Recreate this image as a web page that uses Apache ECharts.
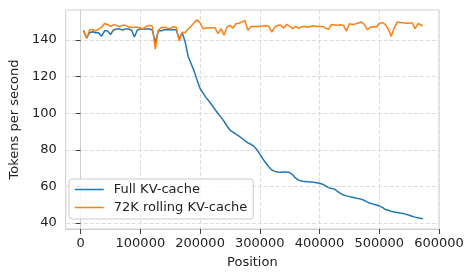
<!DOCTYPE html>
<html>
<head>
<meta charset="utf-8">
<script src="https://cdn.jsdelivr.net/npm/echarts@6/dist/echarts.min.js"></script>
<style>
html,body{margin:0;padding:0;background:#fff;}
#c{width:474px;height:280px;}
</style>
</head>
<body>
<div id="c"></div>
<script>
const positions = [
  5000,10000,15000,20000,25000,30000,35000,40000,45000,50000,
  55000,60000,65000,70000,75000,80000,85000,90000,95000,100000,
  105000,110000,115000,120000,125000,130000,135000,140000,145000,150000,
  155000,160000,165000,170000,175000,180000,185000,190000,195000,200000,
  205000,210000,215000,220000,225000,230000,235000,240000,245000,250000,
  255000,260000,265000,270000,275000,280000,285000,290000,295000,300000,
  305000,310000,315000,320000,325000,330000,335000,340000,345000,350000,
  355000,360000,365000,370000,375000,380000,385000,390000,395000,400000,
  405000,410000,415000,420000,425000,430000,435000,440000,445000,450000,
  455000,460000,465000,470000,475000,480000,485000,490000,495000,500000,
  505000,510000,515000,520000,525000,530000,535000,540000,545000,550000,
  555000,560000,565000,570000,573000
];
const fullKV = [
  145.0,141.0,144.0,144.5,144.0,144.0,142.0,145.0,145.0,143.0,
  145.5,146.0,146.0,145.5,146.0,146.0,145.5,141.6,145.5,146.0,
  146.0,146.0,146.0,145.5,138.5,145.0,145.0,145.6,145.6,145.6,
  145.6,145.6,140.5,144.0,139.0,131.0,127.0,123.0,118.0,113.5,
  111.0,108.5,106.5,104.3,102.0,99.8,97.7,95.6,93.0,90.8,
  89.7,88.5,87.5,86.3,85.0,83.8,83.0,82.0,80.0,77.6,
  75.0,72.8,70.7,69.0,68.2,67.8,67.7,67.9,67.8,67.6,
  66.3,64.5,63.4,62.9,62.6,62.5,62.4,62.3,62.0,61.7,
  61.2,60.3,59.3,58.8,58.5,57.3,56.2,55.3,54.8,54.4,
  54.0,53.6,53.3,53.0,52.3,51.4,50.8,50.3,49.8,49.3,
  48.5,47.4,46.9,46.4,46.0,45.7,45.4,45.2,44.7,44.2,
  43.7,43.2,42.8,42.5,42.3
];
const rollingKV = [
  145.5,141.0,145.5,145.8,144.8,146.0,147.0,149.0,148.5,147.5,
  148.3,148.0,147.2,148.0,148.0,147.2,146.8,147.0,147.0,146.6,
  146.2,147.5,148.0,147.5,135.0,145.3,146.8,147.0,146.5,146.2,
  147.3,147.0,139.5,144.3,144.0,146.0,147.5,149.5,151.0,149.3,
  146.2,146.5,146.7,146.7,146.7,143.5,146.2,142.6,147.0,148.0,
  146.5,148.9,149.2,149.8,150.7,145.3,147.3,147.4,147.4,147.4,
  147.6,147.8,147.5,144.3,147.0,148.0,148.0,146.5,148.6,147.5,
  146.2,147.4,146.5,147.2,147.4,147.0,147.4,147.8,147.4,147.4,
  147.4,146.5,145.8,148.5,148.2,148.0,148.3,148.0,144.9,148.9,
  148.5,148.8,149.3,149.8,148.6,145.6,147.0,147.3,147.0,149.0,
  149.5,148.5,146.0,142.0,146.5,149.8,149.6,149.4,149.2,149.2,
  149.5,146.2,149.0,148.2,147.8
];
const xTicks = [0,100000,200000,300000,400000,500000,600000];
const yTicks = [40,60,80,100,120,140];
const seriesNames = ['Full KV-cache','72K rolling KV-cache'];
const colors = ['#1f77b4','#ff7f0e'];

const font = 'DejaVu Sans';
const chart = echarts.init(document.getElementById('c'), null, {renderer:'canvas'});
const pair = (vals) => positions.map((p,i)=>[p, vals[i]]);
const gridLine = {show:true, lineStyle:{color:'#dcdcdc', type:[4,2], width:1}};
chart.setOption({
  animation:false,
  backgroundColor:'#fff',
  grid:{left:63, top:10, right:35, bottom:51, show:true, borderColor:'#cfcfcf', borderWidth:1, containLabel:false},
  xAxis:{
    type:'value', min:-25000, max:600000,
    name:'Position', nameLocation:'middle', nameGap:27,
    nameTextStyle:{fontFamily:font, fontSize:13, color:'#222'},
    axisLine:{show:true, lineStyle:{color:'#cfcfcf'}},
    axisTick:{show:true, length:5, customValues:xTicks, lineStyle:{color:'#444'}},
    axisLabel:{customValues:xTicks, margin:8, fontFamily:font, fontSize:13, color:'#222', formatter:(v)=>String(v)},
    splitLine:gridLine
  },
  yAxis:{
    type:'value', min:36.7, max:156.4,
    name:'Tokens per second', nameLocation:'middle', nameGap:41, nameRotate:90,
    nameTextStyle:{fontFamily:font, fontSize:13, color:'#222'},
    axisLine:{show:true, lineStyle:{color:'#cfcfcf'}},
    axisTick:{show:true, length:5, customValues:yTicks, lineStyle:{color:'#444'}},
    axisLabel:{customValues:yTicks, margin:9, fontFamily:font, fontSize:13, color:'#222', formatter:(v)=>String(v)},
    splitLine:gridLine
  },
  legend:{
    orient:'vertical', left:69, top:179,
    padding:[4,6,5,5], itemGap:5, itemWidth:29, itemHeight:14,
    backgroundColor:'rgba(255,255,255,0.8)', borderColor:'#cccccc', borderWidth:1, borderRadius:3,
    itemStyle:{opacity:0},
    lineStyle:{width:1.5},
    textStyle:{fontFamily:font, fontSize:13, color:'#222', padding:[0,0,0,5]},
    data:seriesNames
  },
  series:[
    {name:seriesNames[0], type:'line', data:pair(fullKV), symbol:'none', color:colors[0], lineStyle:{width:1.5, color:colors[0]}},
    {name:seriesNames[1], type:'line', data:pair(rollingKV), symbol:'none', color:colors[1], lineStyle:{width:1.5, color:colors[1]}}
  ]
});
</script>
</body>
</html>
